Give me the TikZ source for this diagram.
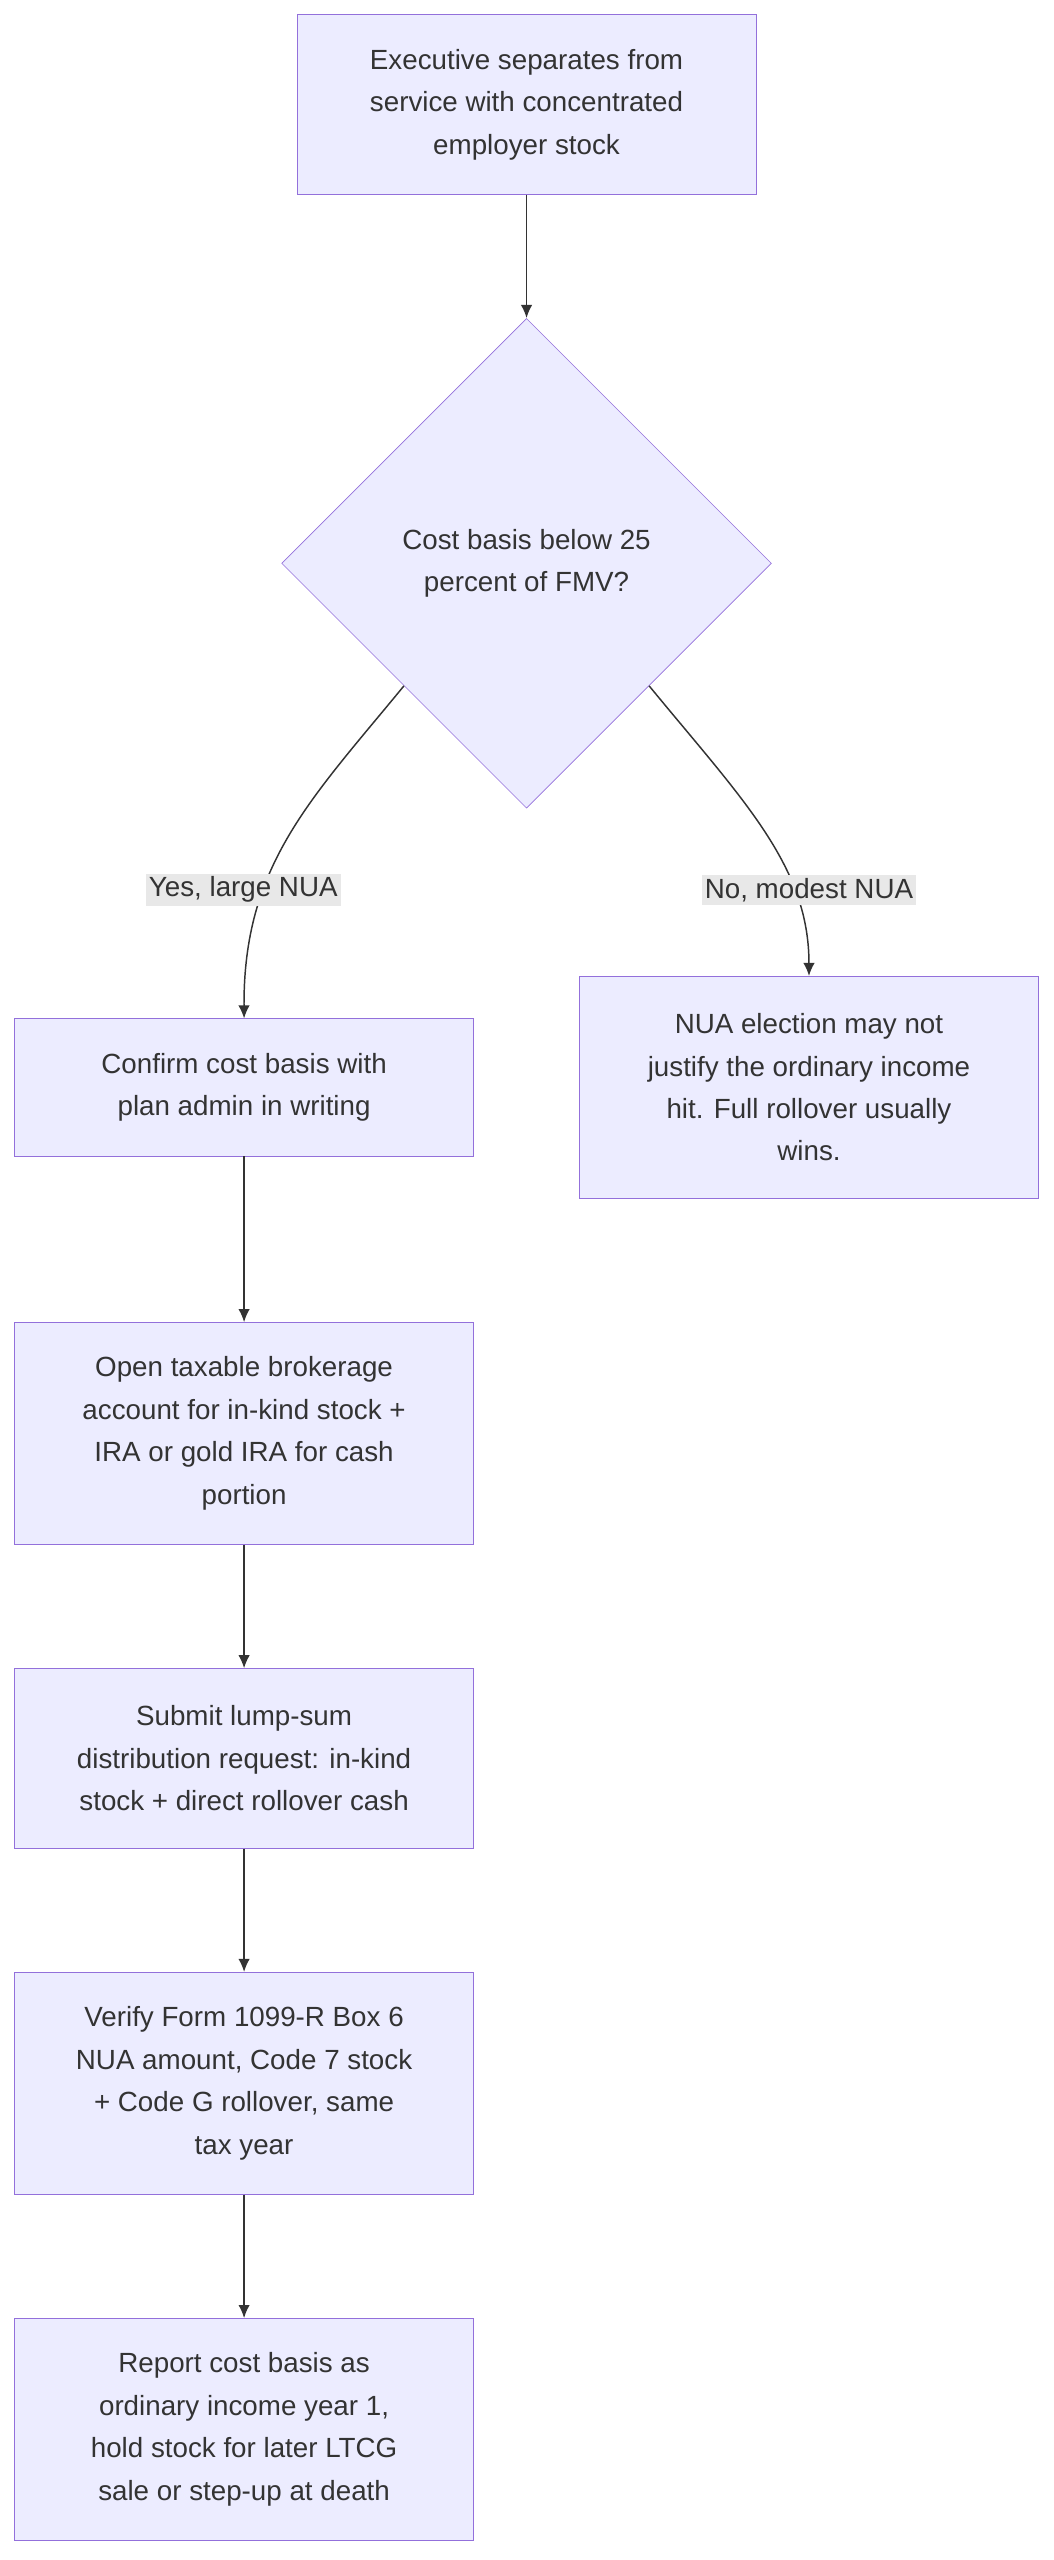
\documentclass[tikz,border=0pt]{standalone}
\usepackage{fontspec}
\setmainfont{Liberation Sans}
\usetikzlibrary{positioning,shapes.geometric,arrows.meta}
\definecolor{boxfill}{HTML}{ECECFF}
\definecolor{boxdraw}{HTML}{9370DB}
\definecolor{linecol}{HTML}{333333}
\definecolor{lblfill}{HTML}{E8E8E8}
\begin{document}
\begin{tikzpicture}[
        x=1pt, y=-1pt,
        step box/.style={rectangle, draw=boxdraw, fill=boxfill, text=linecol, align=center, minimum width=281pt, font=\fontsize{17}{26}\selectfont},
        decision/.style={diamond, draw=boxdraw, fill=boxfill, text=linecol, align=center, aspect=1, inner sep=0pt, minimum width=300pt, minimum height=300pt, font=\fontsize{17}{26}\selectfont},
        branch/.style={fill=lblfill, text=linecol, inner sep=2pt, font=\fontsize{17}{20}\selectfont},
        flow/.style={draw=linecol, line width=0.9pt, -{Latex[length=8pt,width=7pt]}},
    ]
    \useasboundingbox (0,0) rectangle (645,1568);
    \node[step box, minimum height=110pt] (separate) at (322.5,64) {Executive separates from\\service with concentrated\\employer stock};
    \node[decision] (basis) at (322.5,345) {Cost basis below 25\\percent of FMV?};
    \node[step box, minimum height=84pt] (confirm) at (149.5,666) {Confirm cost basis with\\plan admin in writing};
    \node[step box, minimum height=136pt] (modest) at (495.5,666) {NUA election may not\\justify the ordinary income\\hit. Full rollover usually\\wins.};
    \node[step box, minimum height=136pt] (open) at (149.5,878) {Open taxable brokerage\\account for in-kind stock +\\IRA or gold IRA for cash\\portion};
    \node[step box, minimum height=110pt] (submit) at (149.5,1077) {Submit lump-sum\\distribution request: in-kind\\stock + direct rollover cash};
    \node[step box, minimum height=136pt] (verify) at (149.5,1276) {Verify Form 1099-R Box 6\\NUA amount, Code 7 stock\\+ Code G rollover, same\\tax year};
    \node[step box, minimum height=136pt] (report) at (149.5,1488) {Report cost basis as\\ordinary income year 1,\\hold stock for later LTCG\\sale or step-up at death};

    \draw[flow] (separate) -- (basis);
    \draw[flow] (basis.south west) .. controls (190,490) and (149,530) .. (confirm.north);
    \draw[flow] (basis.south east) .. controls (455,490) and (495.5,530) .. (modest.north);
    \node[branch] (yes) at (149,545) {Yes, large NUA};
    \node[branch] (no) at (495.5,545) {No, modest NUA};
    \draw[flow] (confirm) -- (open);
    \draw[flow] (open) -- (submit);
    \draw[flow] (submit) -- (verify);
    \draw[flow] (verify) -- (report);
\end{tikzpicture}
\end{document}
